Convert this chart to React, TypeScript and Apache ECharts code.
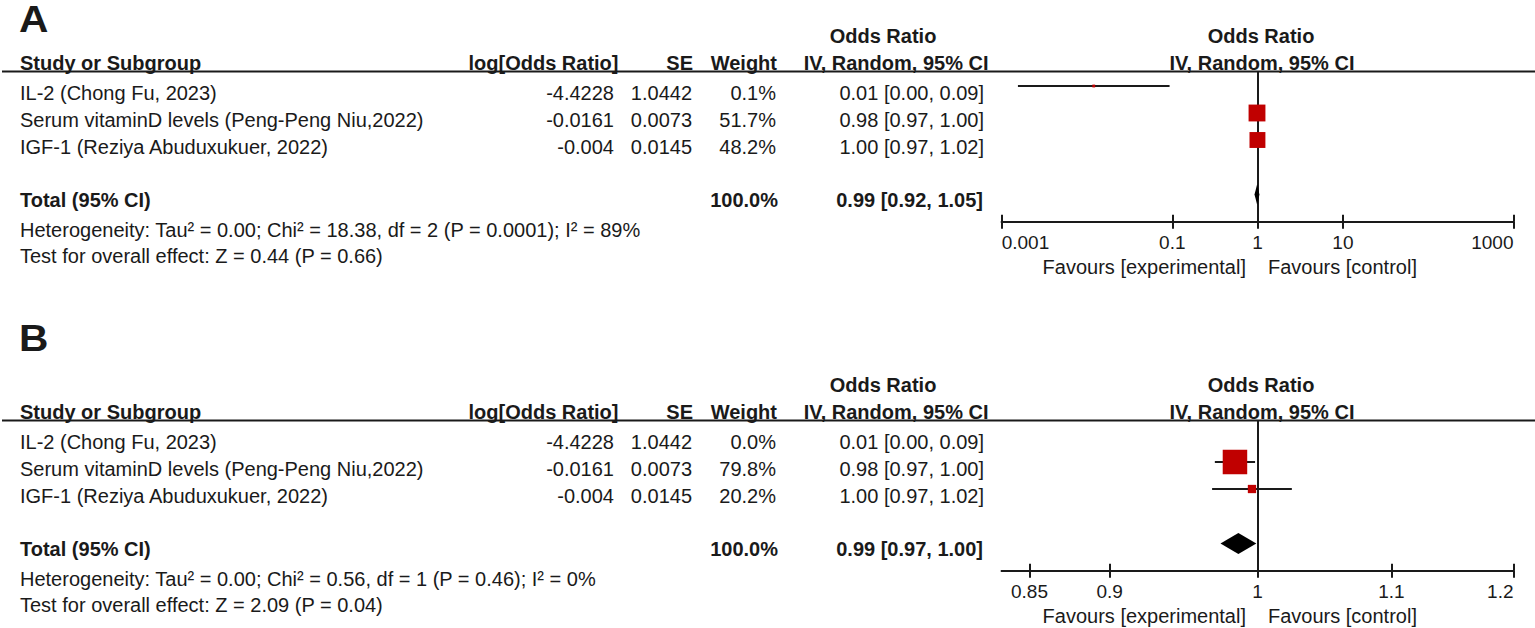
import React, { useEffect, useRef } from "react";
import * as echarts from "echarts";

// ---------- data ----------
const studies = [
  "IL-2 (Chong Fu, 2023)",
  "Serum vitaminD levels (Peng-Peng Niu,2022)",
  "IGF-1 (Reziya Abuduxukuer, 2022)",
];
const logOddsRatioText = ["-4.4228", "-0.0161", "-0.004"];
const seText = ["1.0442", "0.0073", "0.0145"];
const orPoint = [0.012, 0.984, 0.996];
const orLower = [0.00155, 0.97, 0.9681];
const orUpper = [0.0929, 0.9982, 1.0247];
const ciText = ["0.01 [0.00, 0.09]", "0.98 [0.97, 1.00]", "1.00 [0.97, 1.02]"];
const weightsA = [0.1, 51.7, 48.2];
const weightsB = [0.0, 79.8, 20.2];
const weightTextA = ["0.1%", "51.7%", "48.2%"];
const weightTextB = ["0.0%", "79.8%", "20.2%"];
const totalA = [0.99, 0.92, 1.05];
const totalB = [0.9864, 0.9739, 0.9991];
const totalTextA = "0.99 [0.92, 1.05]";
const totalTextB = "0.99 [0.97, 1.00]";
const heterogeneityA = "Heterogeneity: Tau² = 0.00; Chi² = 18.38, df = 2 (P = 0.0001); I² = 89%";
const heterogeneityB = "Heterogeneity: Tau² = 0.00; Chi² = 0.56, df = 1 (P = 0.46); I² = 0%";
const overallA = "Test for overall effect: Z = 0.44 (P = 0.66)";
const overallB = "Test for overall effect: Z = 2.09 (P = 0.04)";
const ticksA = [0.001, 0.1, 1, 10, 1000];
const tickLabelsA = ["0.001", "0.1", "1", "10", "1000"];
const ticksB = [0.85, 0.9, 1, 1.1, 1.2];
const tickLabelsB = ["0.85", "0.9", "1", "1.1", "1.2"];
const rangeA = [0.001, 1000];
const rangeB = [1 / 1.2, 1.2];

// ---------- style ----------
const FONT = '"Liberation Sans", Arial, Helvetica, sans-serif';
const INK = "#1a1a1a";
const RED = "#c00000";
const PANEL_SHIFT = 349;

function txt(text: string, x: number, y: number, align: string, bold = false, size = 20) {
  return {
    type: "text",
    x,
    y,
    silent: true,
    style: {
      text,
      fill: INK,
      fontSize: size,
      fontWeight: bold ? "bold" : "normal",
      fontFamily: FONT,
      align,
      verticalAlign: "middle",
    },
  };
}

function panelGraphics(p: {
  dy: number;
  letter: string;
  letterY: number;
  weights: string[];
  totalText: string;
  het: string;
  overall: string;
}) {
  const { dy } = p;
  const els: any[] = [];
  els.push({ ...txt(p.letter, 19, p.letterY, "left", true, 37), scaleX: 1.1 });
  els.push(txt("Odds Ratio", 883, 36 + dy, "center", true));
  els.push(txt("Odds Ratio", 1261, 36 + dy, "center", true));
  els.push(txt("Study or Subgroup", 20, 63 + dy, "left", true));
  els.push(txt("log[Odds Ratio]", 618.5, 63 + dy, "right", true));
  els.push(txt("SE", 693, 63 + dy, "right", true));
  els.push(txt("Weight", 777, 63 + dy, "right", true));
  els.push(txt("IV, Random, 95% CI", 988.5, 63 + dy, "right", true));
  els.push(txt("IV, Random, 95% CI", 1262, 63 + dy, "center", true));
  els.push({
    type: "line",
    silent: true,
    shape: { x1: 2, y1: 71.5 + dy, x2: 1535, y2: 71.5 + dy },
    style: { stroke: INK, lineWidth: 2 },
  });
  studies.forEach((s, i) => {
    const y = 93 + 27 * i + dy;
    els.push(txt(s, 20, y, "left"));
    els.push(txt(logOddsRatioText[i], 614, y, "right"));
    els.push(txt(seText[i], 692, y, "right"));
    els.push(txt(p.weights[i], 776, y, "right"));
    els.push(txt(ciText[i], 984, y, "right"));
  });
  els.push(txt("Total (95% CI)", 20, 199.5 + dy, "left", true));
  els.push(txt("100.0%", 778, 199.5 + dy, "right", true));
  els.push(txt(p.totalText, 983, 199.5 + dy, "right", true));
  els.push(txt(p.het, 20, 229.5 + dy, "left"));
  els.push(txt(p.overall, 20, 255.5 + dy, "left"));
  els.push(txt("Favours [experimental]", 1246, 267 + dy, "right"));
  els.push(txt("Favours [control]", 1268, 267 + dy, "left"));
  return els;
}

function makeX(gridIndex: number, range: number[], ticks: number[], labels: string[], withLabels: boolean, alignMin: boolean) {
  return {
    type: "log",
    logBase: 10,
    gridIndex,
    min: range[0],
    max: range[1],
    position: "bottom",
    axisLine: { show: true, onZero: false, lineStyle: { color: INK, width: 2 } },
    axisTick: {
      show: true,
      inside: !withLabels,
      length: 7,
      customValues: ticks,
      lineStyle: { color: INK, width: 2 },
    },
    axisLabel: withLabels
      ? {
          show: true,
          customValues: ticks,
          formatter: (v: number) => {
            const k = ticks.findIndex((t) => Math.abs(t - v) / t < 1e-6);
            return k >= 0 ? labels[k] : "";
          },
          color: INK,
          fontSize: 19,
          fontFamily: FONT,
          margin: 11,
          hideOverlap: false,
          showMinLabel: true,
          showMaxLabel: true,
          ...(alignMin ? { alignMinLabel: "left" } : {}),
          alignMaxLabel: "right",
        }
      : { show: false },
    splitLine: { show: false },
  };
}

function studySeries(gridIndex: number, weights: number[]) {
  const data = studies.map((_, i) => [orPoint[i], orLower[i], orUpper[i], i, weights[i]]);
  return {
    type: "custom",
    xAxisIndex: gridIndex * 2,
    yAxisIndex: gridIndex,
    encode: { x: [0, 1, 2], y: 3 },
    data,
    z: 5,
    renderItem: (params: any, api: any) => {
      const pt = api.value(0);
      const lo = api.value(1);
      const hi = api.value(2);
      const row = api.value(3);
      const w = api.value(4);
      const cs = params.coordSys;
      const xmin = cs.x;
      const xmax = cs.x + cs.width;
      const y = api.coord([1, row])[1];
      const xl = api.coord([lo, row])[0];
      const xh = api.coord([hi, row])[0];
      const xp = api.coord([pt, row])[0];
      const children: any[] = [];
      if (xh >= xmin && xl <= xmax) {
        children.push({
          type: "line",
          shape: { x1: Math.max(xl, xmin), y1: y, x2: Math.min(xh, xmax), y2: y },
          style: { stroke: INK, lineWidth: 2 },
        });
      }
      if (w > 0 && xp >= xmin && xp <= xmax) {
        const s = 2.8 + 0.272 * w;
        children.push({
          type: "rect",
          shape: { x: xp - s / 2, y: y - s / 2, width: s, height: s },
          style: { fill: RED },
        });
      }
      return { type: "group", children };
    },
    markLine: {
      silent: true,
      symbol: ["none", "none"],
      label: { show: false },
      lineStyle: { color: INK, width: 2, type: "solid" },
      data: [{ xAxis: 1 }],
    },
  };
}

function totalSeries(gridIndex: number, total: number[]) {
  return {
    type: "custom",
    xAxisIndex: gridIndex * 2,
    yAxisIndex: gridIndex,
    encode: { x: [0, 1, 2], y: 3 },
    data: [[total[0], total[1], total[2], 4]],
    z: 6,
    renderItem: (params: any, api: any) => {
      const row = api.value(3);
      const y = api.coord([1, row])[1] + 0.5;
      const xp = api.coord([api.value(0), row])[0];
      const xl = api.coord([api.value(1), row])[0];
      const xh = api.coord([api.value(2), row])[0];
      const h = 21;
      return {
        type: "polygon",
        shape: { points: [[xl, y], [xp, y - h / 2], [xh, y], [xp, y + h / 2]] },
        style: { fill: "#000" },
      };
    },
  };
}

const GRID_LEFT = 1001.7;
const GRID_WIDTH = 511.8;
const GRID_TOP = 71.5;
const GRID_HEIGHT = 150.2;

export default function App() {
  const ref = useRef<HTMLDivElement>(null);
  useEffect(() => {
    if (!ref.current) return;
    const chart = echarts.init(ref.current, undefined, { renderer: "svg" });
    const yAxisCfg = (gridIndex: number) => ({
      type: "value",
      gridIndex,
      inverse: true,
      min: -0.537,
      max: 5.026,
      show: false,
    });
    chart.setOption({
      animation: false,
      backgroundColor: "#ffffff",
      textStyle: { fontFamily: FONT },
      grid: [
        { left: GRID_LEFT, top: GRID_TOP, width: GRID_WIDTH, height: GRID_HEIGHT, containLabel: false },
        { left: GRID_LEFT, top: GRID_TOP + PANEL_SHIFT, width: GRID_WIDTH, height: GRID_HEIGHT, containLabel: false },
      ],
      xAxis: [
        makeX(0, rangeA, ticksA, tickLabelsA, false, true),
        makeX(0, rangeA, ticksA, tickLabelsA, true, true),
        makeX(1, rangeB, ticksB, tickLabelsB, false, false),
        makeX(1, rangeB, ticksB, tickLabelsB, true, false),
      ],
      yAxis: [yAxisCfg(0), yAxisCfg(1)],
      series: [
        studySeries(0, weightsA),
        totalSeries(0, totalA),
        { ...studySeries(1, weightsB), xAxisIndex: 2, yAxisIndex: 1 },
        { ...totalSeries(1, totalB), xAxisIndex: 2, yAxisIndex: 1 },
      ],
      graphic: [
        ...panelGraphics({
          dy: 0,
          letter: "A",
          letterY: 19,
          weights: weightTextA,
          totalText: totalTextA,
          het: heterogeneityA,
          overall: overallA,
        }),
        ...panelGraphics({
          dy: PANEL_SHIFT,
          letter: "B",
          letterY: 338,
          weights: weightTextB,
          totalText: totalTextB,
          het: heterogeneityB,
          overall: overallB,
        }),
      ],
    });
    return () => chart.dispose();
  }, []);
  return (
    <div
      ref={ref}
      style={{ position: "fixed", left: 0, top: 0, width: 1535, height: 628, background: "#fff" }}
    />
  );
}
